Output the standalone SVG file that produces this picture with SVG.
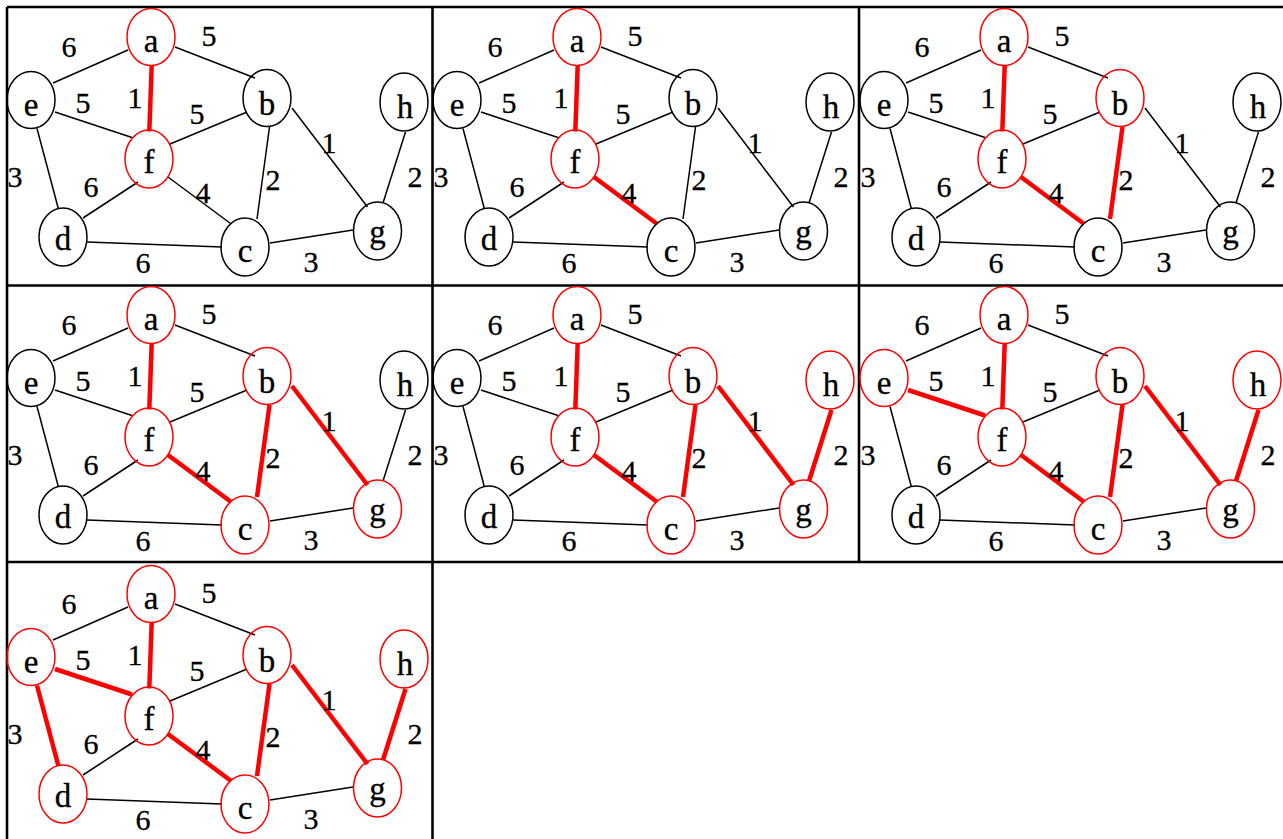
<svg xmlns="http://www.w3.org/2000/svg" width="1283" height="839" viewBox="0 0 1283 839" font-family="'Liberation Serif', 'Times New Roman', serif">
  <style>
    .bg { fill: #ffffff; }
    .grid { stroke: #000; stroke-width: 2.6; fill: none; }
    .edge { stroke: #000; stroke-width: 1.5; stroke-linecap: butt; }
    .edge.hl { stroke: #ff0000; stroke-width: 4.5; }
    .node ellipse { fill: none; stroke: #000; stroke-width: 1.5; }
    .node.hl ellipse { stroke: #ff0000; }
    .node text { font-family: "Liberation Serif", "Times New Roman", serif; font-size: 33px; fill: #000; stroke: #000; stroke-width: 0.3; text-anchor: middle; }
    .w { font-family: "Liberation Serif", "Times New Roman", serif; font-size: 30px; fill: #000; stroke: #000; stroke-width: 0.3; text-anchor: middle; }
  </style>
  <defs>
    <!-- one shared set of edge geometries, reused by every step of the tree build -->
    <line id="ea" x1="53" y1="83" x2="128" y2="50"/>
    <line id="ab" x1="175" y1="47" x2="255" y2="78"/>
    <line id="af" x1="151.7" y1="65" x2="149.3" y2="131.5"/>
    <line id="ef" x1="55" y1="112" x2="132" y2="137.5"/>
    <line id="fb" x1="170" y1="144" x2="247" y2="112"/>
    <line id="bg" x1="292" y1="108" x2="367.5" y2="207"/>
    <line id="hg" x1="405.5" y1="132" x2="383" y2="203"/>
    <line id="ed" x1="37" y1="128.5" x2="58.3" y2="208.5"/>
    <line id="df" x1="83" y1="218" x2="138" y2="182"/>
    <line id="fc" x1="168" y1="177" x2="230.5" y2="223.5"/>
    <line id="bc" x1="269.5" y1="127" x2="257" y2="219"/>
    <line id="dc" x1="87" y1="242" x2="222" y2="247"/>
    <line id="cg" x1="270" y1="243" x2="353" y2="230"/>
    <!-- edge weights -->
    <g id="weights" class="w">
      <text x="69" y="57">6</text>
      <text x="209" y="46">5</text>
      <text x="83" y="113">5</text>
      <text x="135" y="108">1</text>
      <text x="197" y="124">5</text>
      <text x="329" y="153">1</text>
      <text x="15" y="187">3</text>
      <text x="91" y="197">6</text>
      <text x="203" y="203">4</text>
      <text x="273" y="190">2</text>
      <text x="415" y="187">2</text>
      <text x="143" y="273">6</text>
      <text x="311" y="272">3</text>
    </g>
  </defs>

  <rect class="bg" x="0" y="0" width="1283" height="839"/>

  <!-- table grid -->
  <g id="grid" class="grid">
    <path d="M7,7 H1283"/>
    <path d="M7,7 V839"/>
    <path d="M432.5,7 V839"/>
    <path d="M859,7 V562"/>
    <path d="M7,285.5 H1283"/>
    <path d="M7,562 H1283"/>
  </g>

  <!-- step 1 -->
  <g id="step1" transform="translate(0,0)">
    <g id="step1-connectors">
      <use href="#ea" class="edge"/><use href="#ab" class="edge"/><use href="#af" class="edge hl"/>
      <use href="#ef" class="edge"/><use href="#fb" class="edge"/><use href="#bg" class="edge"/>
      <use href="#hg" class="edge"/><use href="#ed" class="edge"/><use href="#df" class="edge"/>
      <use href="#fc" class="edge"/><use href="#bc" class="edge"/><use href="#dc" class="edge"/>
      <use href="#cg" class="edge"/>
      <use href="#weights"/>
    </g>
    <g id="step1-a" class="node hl"><ellipse cx="151" cy="37" rx="24" ry="28.5"/><text x="151" y="52">a</text></g>
    <g id="step1-b" class="node"><ellipse cx="267" cy="98" rx="24" ry="28.5"/><text x="267" y="115">b</text></g>
    <g id="step1-c" class="node"><ellipse cx="245" cy="247" rx="24" ry="29"/><text x="245" y="262">c</text></g>
    <g id="step1-d" class="node"><ellipse cx="63" cy="237" rx="24" ry="29"/><text x="63" y="250">d</text></g>
    <g id="step1-e" class="node"><ellipse cx="31" cy="100" rx="24" ry="28.5"/><text x="31" y="116">e</text></g>
    <g id="step1-f" class="node hl"><ellipse cx="149" cy="159" rx="24" ry="29"/><text x="149" y="173">f</text></g>
    <g id="step1-g" class="node"><ellipse cx="377.5" cy="231" rx="24" ry="29"/><text x="377.5" y="243">g</text></g>
    <g id="step1-h" class="node"><ellipse cx="404" cy="102" rx="24" ry="29"/><text x="405" y="118">h</text></g>
  </g>

  <!-- step 2 -->
  <g id="step2" transform="translate(426,0)">
    <g id="step2-connectors">
      <use href="#ea" class="edge"/><use href="#ab" class="edge"/><use href="#af" class="edge hl"/>
      <use href="#ef" class="edge"/><use href="#fb" class="edge"/><use href="#bg" class="edge"/>
      <use href="#hg" class="edge"/><use href="#ed" class="edge"/><use href="#df" class="edge"/>
      <use href="#fc" class="edge hl"/><use href="#bc" class="edge"/><use href="#dc" class="edge"/>
      <use href="#cg" class="edge"/>
      <use href="#weights"/>
    </g>
    <g id="step2-a" class="node hl"><ellipse cx="151" cy="37" rx="24" ry="28.5"/><text x="151" y="52">a</text></g>
    <g id="step2-b" class="node"><ellipse cx="267" cy="98" rx="24" ry="28.5"/><text x="267" y="115">b</text></g>
    <g id="step2-c" class="node"><ellipse cx="245" cy="247" rx="24" ry="29"/><text x="245" y="262">c</text></g>
    <g id="step2-d" class="node"><ellipse cx="63" cy="237" rx="24" ry="29"/><text x="63" y="250">d</text></g>
    <g id="step2-e" class="node"><ellipse cx="31" cy="100" rx="24" ry="28.5"/><text x="31" y="116">e</text></g>
    <g id="step2-f" class="node hl"><ellipse cx="149" cy="159" rx="24" ry="29"/><text x="149" y="173">f</text></g>
    <g id="step2-g" class="node"><ellipse cx="377.5" cy="231" rx="24" ry="29"/><text x="377.5" y="243">g</text></g>
    <g id="step2-h" class="node"><ellipse cx="404" cy="102" rx="24" ry="29"/><text x="405" y="118">h</text></g>
  </g>

  <!-- step 3 -->
  <g id="step3" transform="translate(853,0)">
    <g id="step3-connectors">
      <use href="#ea" class="edge"/><use href="#ab" class="edge"/><use href="#af" class="edge hl"/>
      <use href="#ef" class="edge"/><use href="#fb" class="edge"/><use href="#bg" class="edge"/>
      <use href="#hg" class="edge"/><use href="#ed" class="edge"/><use href="#df" class="edge"/>
      <use href="#fc" class="edge hl"/><use href="#bc" class="edge hl"/><use href="#dc" class="edge"/>
      <use href="#cg" class="edge"/>
      <use href="#weights"/>
    </g>
    <g id="step3-a" class="node hl"><ellipse cx="151" cy="37" rx="24" ry="28.5"/><text x="151" y="52">a</text></g>
    <g id="step3-b" class="node hl"><ellipse cx="267" cy="98" rx="24" ry="28.5"/><text x="267" y="115">b</text></g>
    <g id="step3-c" class="node"><ellipse cx="245" cy="247" rx="24" ry="29"/><text x="245" y="262">c</text></g>
    <g id="step3-d" class="node"><ellipse cx="63" cy="237" rx="24" ry="29"/><text x="63" y="250">d</text></g>
    <g id="step3-e" class="node"><ellipse cx="31" cy="100" rx="24" ry="28.5"/><text x="31" y="116">e</text></g>
    <g id="step3-f" class="node hl"><ellipse cx="149" cy="159" rx="24" ry="29"/><text x="149" y="173">f</text></g>
    <g id="step3-g" class="node"><ellipse cx="377.5" cy="231" rx="24" ry="29"/><text x="377.5" y="243">g</text></g>
    <g id="step3-h" class="node"><ellipse cx="404" cy="102" rx="24" ry="29"/><text x="405" y="118">h</text></g>
  </g>

  <!-- step 4 -->
  <g id="step4" transform="translate(0,278)">
    <g id="step4-connectors">
      <use href="#ea" class="edge"/><use href="#ab" class="edge"/><use href="#af" class="edge hl"/>
      <use href="#ef" class="edge"/><use href="#fb" class="edge"/><use href="#bg" class="edge hl"/>
      <use href="#hg" class="edge"/><use href="#ed" class="edge"/><use href="#df" class="edge"/>
      <use href="#fc" class="edge hl"/><use href="#bc" class="edge hl"/><use href="#dc" class="edge"/>
      <use href="#cg" class="edge"/>
      <use href="#weights"/>
    </g>
    <g id="step4-a" class="node hl"><ellipse cx="151" cy="37" rx="24" ry="28.5"/><text x="151" y="52">a</text></g>
    <g id="step4-b" class="node hl"><ellipse cx="267" cy="98" rx="24" ry="28.5"/><text x="267" y="115">b</text></g>
    <g id="step4-c" class="node hl"><ellipse cx="245" cy="247" rx="24" ry="29"/><text x="245" y="262">c</text></g>
    <g id="step4-d" class="node"><ellipse cx="63" cy="237" rx="24" ry="29"/><text x="63" y="250">d</text></g>
    <g id="step4-e" class="node"><ellipse cx="31" cy="100" rx="24" ry="28.5"/><text x="31" y="116">e</text></g>
    <g id="step4-f" class="node hl"><ellipse cx="149" cy="159" rx="24" ry="29"/><text x="149" y="173">f</text></g>
    <g id="step4-g" class="node hl"><ellipse cx="377.5" cy="231" rx="24" ry="29"/><text x="377.5" y="243">g</text></g>
    <g id="step4-h" class="node"><ellipse cx="404" cy="102" rx="24" ry="29"/><text x="405" y="118">h</text></g>
  </g>

  <!-- step 5 -->
  <g id="step5" transform="translate(426,278)">
    <g id="step5-connectors">
      <use href="#ea" class="edge"/><use href="#ab" class="edge"/><use href="#af" class="edge hl"/>
      <use href="#ef" class="edge"/><use href="#fb" class="edge"/><use href="#bg" class="edge hl"/>
      <use href="#hg" class="edge hl"/><use href="#ed" class="edge"/><use href="#df" class="edge"/>
      <use href="#fc" class="edge hl"/><use href="#bc" class="edge hl"/><use href="#dc" class="edge"/>
      <use href="#cg" class="edge"/>
      <use href="#weights"/>
    </g>
    <g id="step5-a" class="node hl"><ellipse cx="151" cy="37" rx="24" ry="28.5"/><text x="151" y="52">a</text></g>
    <g id="step5-b" class="node hl"><ellipse cx="267" cy="98" rx="24" ry="28.5"/><text x="267" y="115">b</text></g>
    <g id="step5-c" class="node hl"><ellipse cx="245" cy="247" rx="24" ry="29"/><text x="245" y="262">c</text></g>
    <g id="step5-d" class="node"><ellipse cx="63" cy="237" rx="24" ry="29"/><text x="63" y="250">d</text></g>
    <g id="step5-e" class="node"><ellipse cx="31" cy="100" rx="24" ry="28.5"/><text x="31" y="116">e</text></g>
    <g id="step5-f" class="node hl"><ellipse cx="149" cy="159" rx="24" ry="29"/><text x="149" y="173">f</text></g>
    <g id="step5-g" class="node hl"><ellipse cx="377.5" cy="231" rx="24" ry="29"/><text x="377.5" y="243">g</text></g>
    <g id="step5-h" class="node hl"><ellipse cx="404" cy="102" rx="24" ry="29"/><text x="405" y="118">h</text></g>
  </g>

  <!-- step 6 -->
  <g id="step6" transform="translate(853,278)">
    <g id="step6-connectors">
      <use href="#ea" class="edge"/><use href="#ab" class="edge"/><use href="#af" class="edge hl"/>
      <use href="#ef" class="edge hl"/><use href="#fb" class="edge"/><use href="#bg" class="edge hl"/>
      <use href="#hg" class="edge hl"/><use href="#ed" class="edge"/><use href="#df" class="edge"/>
      <use href="#fc" class="edge hl"/><use href="#bc" class="edge hl"/><use href="#dc" class="edge"/>
      <use href="#cg" class="edge"/>
      <use href="#weights"/>
    </g>
    <g id="step6-a" class="node hl"><ellipse cx="151" cy="37" rx="24" ry="28.5"/><text x="151" y="52">a</text></g>
    <g id="step6-b" class="node hl"><ellipse cx="267" cy="98" rx="24" ry="28.5"/><text x="267" y="115">b</text></g>
    <g id="step6-c" class="node hl"><ellipse cx="245" cy="247" rx="24" ry="29"/><text x="245" y="262">c</text></g>
    <g id="step6-d" class="node"><ellipse cx="63" cy="237" rx="24" ry="29"/><text x="63" y="250">d</text></g>
    <g id="step6-e" class="node hl"><ellipse cx="31" cy="100" rx="24" ry="28.5"/><text x="31" y="116">e</text></g>
    <g id="step6-f" class="node hl"><ellipse cx="149" cy="159" rx="24" ry="29"/><text x="149" y="173">f</text></g>
    <g id="step6-g" class="node hl"><ellipse cx="377.5" cy="231" rx="24" ry="29"/><text x="377.5" y="243">g</text></g>
    <g id="step6-h" class="node hl"><ellipse cx="404" cy="102" rx="24" ry="29"/><text x="405" y="118">h</text></g>
  </g>

  <!-- step 7 -->
  <g id="step7" transform="translate(0,557)">
    <g id="step7-connectors">
      <use href="#ea" class="edge"/><use href="#ab" class="edge"/><use href="#af" class="edge hl"/>
      <use href="#ef" class="edge hl"/><use href="#fb" class="edge"/><use href="#bg" class="edge hl"/>
      <use href="#hg" class="edge hl"/><use href="#ed" class="edge hl"/><use href="#df" class="edge"/>
      <use href="#fc" class="edge hl"/><use href="#bc" class="edge hl"/><use href="#dc" class="edge"/>
      <use href="#cg" class="edge"/>
      <use href="#weights"/>
    </g>
    <g id="step7-a" class="node hl"><ellipse cx="151" cy="37" rx="24" ry="28.5"/><text x="151" y="52">a</text></g>
    <g id="step7-b" class="node hl"><ellipse cx="267" cy="98" rx="24" ry="28.5"/><text x="267" y="115">b</text></g>
    <g id="step7-c" class="node hl"><ellipse cx="245" cy="247" rx="24" ry="29"/><text x="245" y="262">c</text></g>
    <g id="step7-d" class="node hl"><ellipse cx="63" cy="237" rx="24" ry="29"/><text x="63" y="250">d</text></g>
    <g id="step7-e" class="node hl"><ellipse cx="31" cy="100" rx="24" ry="28.5"/><text x="31" y="116">e</text></g>
    <g id="step7-f" class="node hl"><ellipse cx="149" cy="159" rx="24" ry="29"/><text x="149" y="173">f</text></g>
    <g id="step7-g" class="node hl"><ellipse cx="377.5" cy="231" rx="24" ry="29"/><text x="377.5" y="243">g</text></g>
    <g id="step7-h" class="node hl"><ellipse cx="404" cy="102" rx="24" ry="29"/><text x="405" y="118">h</text></g>
  </g>
</svg>
